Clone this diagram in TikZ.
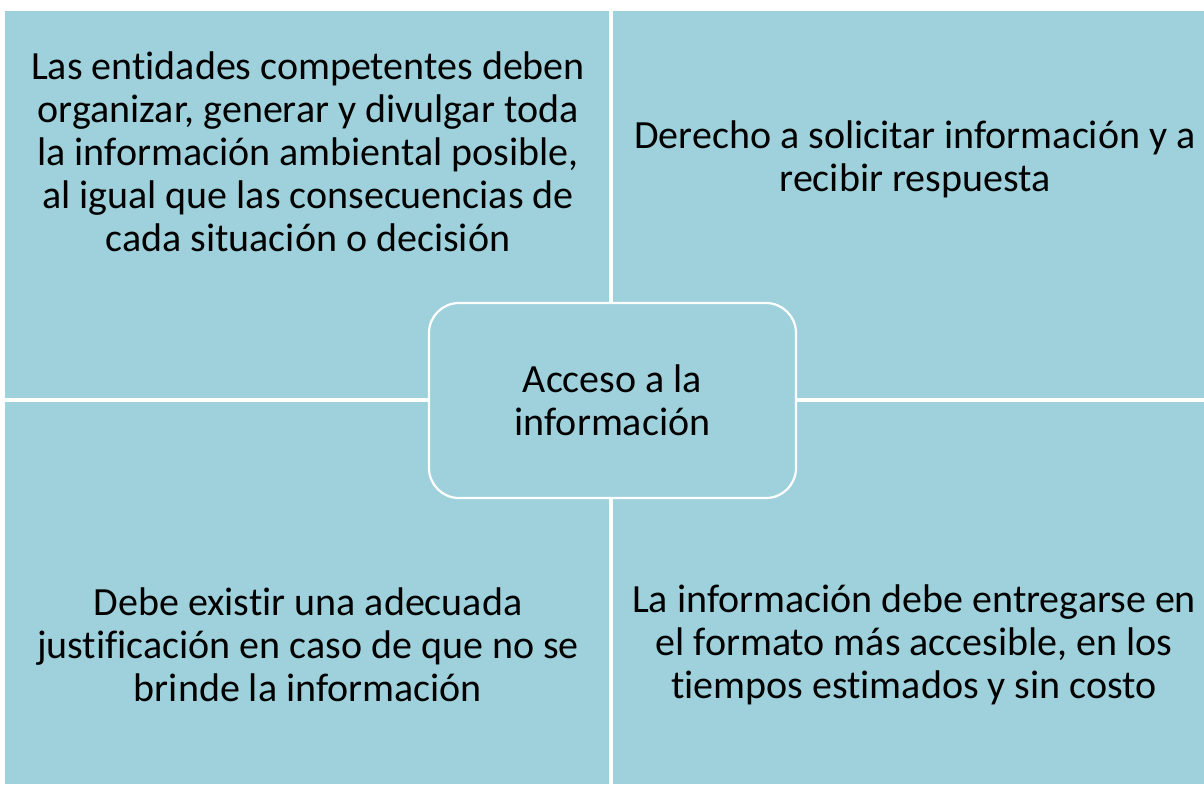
\documentclass[tikz,border=0pt]{standalone}
\usepackage{fontspec}
\setmainfont{Carlito}[Ligatures={NoCommon}]
\definecolor{quadblue}{RGB}{158,209,219}
\begin{document}
\begin{tikzpicture}[
            x=0.5pt, y=-0.5pt,
            quad/.style={fill=quadblue, draw=none},
            txt/.style={align=center, inner sep=0pt, font=\fontsize{20}{21.5}\selectfont},
        ]
            \useasboundingbox (0, 0) rectangle (1204, 784);
            % four quadrants
            \fill[quad] (5, 11) rectangle (609, 398);
            \fill[quad] (613, 11) rectangle (1204, 398);
            \fill[quad] (5, 402) rectangle (609, 784);
            \fill[quad] (613, 402) rectangle (1204, 784);
            % centre box
            \node[quad, draw=white, line width=1.1pt, rounded corners=15pt, minimum width=183.5pt, minimum height=97.5pt] (centro) at (612.5, 400.5) {};
            \node[txt] (acceso) at (centro) {Acceso a la\\información};
            \node[txt] (entidades) at (308, 152) {Las entidades competentes deben\\organizar, generar y divulgar toda\\la información ambiental posible,\\al igual que las consecuencias de\\cada situación o decisión};
            \node[txt] (derecho) at (915, 159) {Derecho a solicitar información y a\\recibir respuesta};
            \node[txt] (justificacion) at (308, 645) {Debe existir una adecuada\\justificación en caso de que no se\\brinde la información};
            \node[txt] (formato) at (914, 645) {La información debe entregarse en\\el formato más accesible, en los\\tiempos estimados y sin costo};
        \end{tikzpicture}
\end{document}
